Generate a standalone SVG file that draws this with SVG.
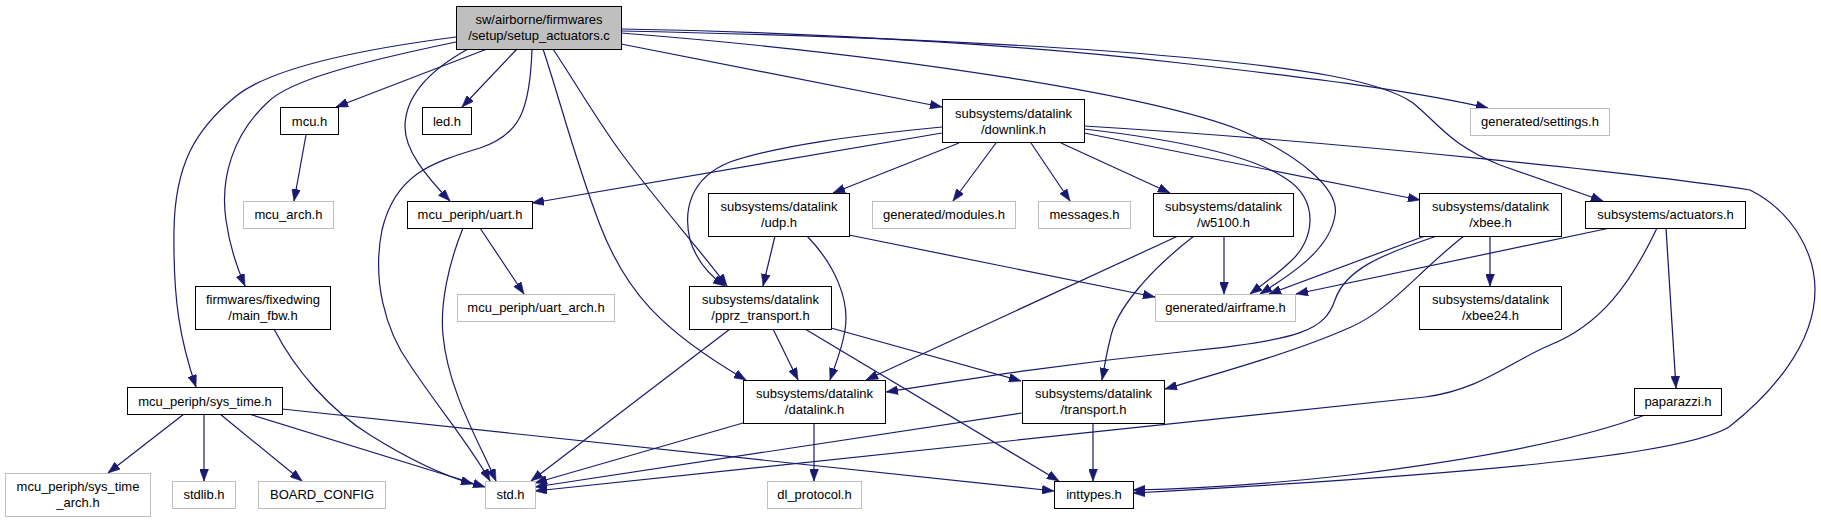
<svg xmlns="http://www.w3.org/2000/svg" width="1821" height="523" viewBox="0 0 1821 523">
<style>
.n rect{fill:#fff;stroke:#000;stroke-width:1}
.g rect{fill:#fff;stroke:#bfbfbf;stroke-width:1}
.r rect{fill:#bfbfbf;stroke:#000;stroke-width:1}
text{font-family:"Liberation Sans",Arial,Helvetica,sans-serif;font-size:13px;fill:#000;text-anchor:middle}
#edges path{fill:none;stroke:#191970;stroke-width:1.2;marker-end:url(#ah)}
</style>
<defs>
<marker id="ah" markerUnits="userSpaceOnUse" markerWidth="12" markerHeight="9" viewBox="0 0 12 9" refX="12" refY="4.5" orient="auto">
<path d="M0,0 L12,4.5 L0,9 z" fill="#191970" stroke="#191970" stroke-width="0.5"/>
</marker>
</defs>
<rect width="1821" height="523" fill="#fff"/>
<g id="edges">
<path d="M487,49 L336,107"/>
<path d="M517,49 L462,107"/>
<path d="M621,44 L942,107"/>
<path d="M621,29 C850,33 1050,48 1180,63 C1300,77 1400,88 1488,108"/>
<path d="M621,31 C850,36 1050,45 1180,57 C1300,68 1380,80 1413,103 C1440,125 1450,145 1500,165 L1603,201"/>
<path d="M621,33 C900,55 1150,95 1240,130 C1300,155 1340,190 1335,215 C1330,250 1290,275 1260,294"/>
<path d="M468,49 C430,70 405,95 405,127 C405,150 425,175 450,201"/>
<path d="M532,49 C530,110 520,135 480,148 C430,163 395,175 382,230 C372,280 385,330 410,365 C440,410 470,445 490,481"/>
<path d="M553,49 C580,90 600,125 625,158 C660,205 700,250 727,286"/>
<path d="M543,49 C560,100 575,160 600,225 C625,290 660,330 746,380"/>
<path d="M456,42 C360,62 290,80 268,102 C232,135 220,180 226,220 C230,250 238,270 245,286"/>
<path d="M456,37 C340,52 265,72 235,97 C195,130 175,165 174,230 C173,300 180,340 196,387"/>
<path d="M942,133 L532,203"/>
<path d="M942,127 C860,135 780,145 730,162 C690,178 683,210 690,240 C697,262 710,276 725,286"/>
<path d="M959,143 L833,193"/>
<path d="M996,143 L953,201"/>
<path d="M1031,143 L1070,201"/>
<path d="M1061,143 L1170,193"/>
<path d="M1084,133 L1420,200"/>
<path d="M1084,129 C1180,140 1250,155 1285,178 C1320,200 1315,240 1290,262 C1275,276 1262,285 1250,294"/>
<path d="M1084,126 C1350,142 1650,175 1750,190 C1790,210 1815,250 1815,290 C1815,345 1770,395 1729,427 C1690,450 1550,470 1133,493"/>
<path d="M775,236 L763,286"/>
<path d="M807,236 C835,265 850,300 845,330 C842,350 835,365 830,380"/>
<path d="M849,235 L1155,297"/>
<path d="M1224,236 L1224,294"/>
<path d="M1178,236 L866,380"/>
<path d="M1194,236 C1150,270 1115,310 1110,340 C1106,355 1104,370 1102,380"/>
<path d="M1425,236 L1269,294"/>
<path d="M1437,236 C1380,255 1345,270 1335,300 C1325,330 1300,340 1190,351 C1050,365 950,382 886,392"/>
<path d="M1464,236 C1420,270 1390,310 1351,327 C1300,350 1230,370 1165,389"/>
<path d="M1490,236 L1490,286"/>
<path d="M1610,228 L1296,294"/>
<path d="M1657,228 C1630,285 1600,325 1550,345 C1510,362 1480,390 1425,397 L535,491"/>
<path d="M1666,228 L1676,388"/>
<path d="M1645,415 C1580,440 1470,460 1350,475 C1260,485 1180,489 1133,490"/>
<path d="M306,135 L294,201"/>
<path d="M480,228 L524,294"/>
<path d="M463,228 C448,265 440,305 443,335 C448,390 478,440 496,481"/>
<path d="M274,329 C295,370 330,410 370,435 C410,460 445,476 473,484"/>
<path d="M184,414 L108,473"/>
<path d="M204,414 L204,481"/>
<path d="M220,414 L302,481"/>
<path d="M249,414 L485,487"/>
<path d="M282,409 L1054,491"/>
<path d="M773,329 L798,380"/>
<path d="M831,328 L1021,381"/>
<path d="M805,329 L1059,481"/>
<path d="M730,329 L531,481"/>
<path d="M743,423 L535,483"/>
<path d="M814,423 L814,481"/>
<path d="M1022,413 L535,487"/>
<path d="M1093,423 L1093,481"/>
</g>
<g id="n_root" class="r"><rect x="456.5" y="6.5" width="165" height="43"/><text x="539" y="24">sw/airborne/firmwares</text><text x="539" y="40">/setup/setup_actuators.c</text></g>
<g id="n_mcu" class="n"><rect x="280.5" y="107.5" width="58" height="27"/><text x="309.5" y="125.5">mcu.h</text></g>
<g id="n_led" class="n"><rect x="422.5" y="107.5" width="49" height="27"/><text x="447" y="125.5">led.h</text></g>
<g id="n_downlink" class="n"><rect x="942.5" y="99.5" width="142" height="43"/><text x="1013.5" y="117.5">subsystems/datalink</text><text x="1013.5" y="133.5">/downlink.h</text></g>
<g id="n_settings" class="g"><rect x="1470.5" y="108.5" width="139" height="27"/><text x="1540" y="126">generated/settings.h</text></g>
<g id="n_mcu_arch" class="g"><rect x="243.5" y="201.5" width="90" height="27"/><text x="288.5" y="219">mcu_arch.h</text></g>
<g id="n_uart" class="n"><rect x="407.5" y="201.5" width="125" height="27"/><text x="470" y="219">mcu_periph/uart.h</text></g>
<g id="n_udp" class="n"><rect x="708.5" y="193.5" width="141" height="43"/><text x="779" y="211">subsystems/datalink</text><text x="779" y="227">/udp.h</text></g>
<g id="n_modules" class="g"><rect x="872.5" y="201.5" width="143" height="27"/><text x="944" y="219">generated/modules.h</text></g>
<g id="n_messages" class="g"><rect x="1038.5" y="201.5" width="92" height="27"/><text x="1084.5" y="219">messages.h</text></g>
<g id="n_w5100" class="n"><rect x="1153.5" y="193.5" width="140" height="43"/><text x="1223.5" y="211">subsystems/datalink</text><text x="1223.5" y="227">/w5100.h</text></g>
<g id="n_xbee" class="n"><rect x="1419.5" y="193.5" width="142" height="43"/><text x="1490.5" y="211">subsystems/datalink</text><text x="1490.5" y="227">/xbee.h</text></g>
<g id="n_actuators" class="n"><rect x="1585.5" y="201.5" width="160" height="27"/><text x="1665.5" y="219">subsystems/actuators.h</text></g>
<g id="n_main_fbw" class="n"><rect x="195.5" y="286.5" width="135" height="43"/><text x="263" y="304">firmwares/fixedwing</text><text x="263" y="320">/main_fbw.h</text></g>
<g id="n_uart_arch" class="g"><rect x="457.5" y="294.5" width="157" height="27"/><text x="536" y="312">mcu_periph/uart_arch.h</text></g>
<g id="n_pprz" class="n"><rect x="689.5" y="286.5" width="142" height="43"/><text x="760.5" y="304">subsystems/datalink</text><text x="760.5" y="320">/pprz_transport.h</text></g>
<g id="n_airframe" class="g"><rect x="1155.5" y="294.5" width="140" height="27"/><text x="1225.5" y="312">generated/airframe.h</text></g>
<g id="n_xbee24" class="n"><rect x="1419.5" y="286.5" width="142" height="43"/><text x="1490.5" y="304">subsystems/datalink</text><text x="1490.5" y="320">/xbee24.h</text></g>
<g id="n_sys_time" class="n"><rect x="127.5" y="387.5" width="155" height="27"/><text x="205" y="405.5">mcu_periph/sys_time.h</text></g>
<g id="n_datalink" class="n"><rect x="743.5" y="380.5" width="142" height="43"/><text x="814.5" y="398">subsystems/datalink</text><text x="814.5" y="414">/datalink.h</text></g>
<g id="n_transport" class="n"><rect x="1022.5" y="380.5" width="142" height="43"/><text x="1093.5" y="398">subsystems/datalink</text><text x="1093.5" y="414">/transport.h</text></g>
<g id="n_paparazzi" class="n"><rect x="1634.5" y="388.5" width="87" height="27"/><text x="1678" y="406">paparazzi.h</text></g>
<g id="n_sys_time_arch" class="g"><rect x="5.5" y="473.5" width="145" height="43"/><text x="78" y="491">mcu_periph/sys_time</text><text x="78" y="507">_arch.h</text></g>
<g id="n_stdlib" class="g"><rect x="172.5" y="481.5" width="63" height="27"/><text x="204" y="499">stdlib.h</text></g>
<g id="n_board" class="g"><rect x="258.5" y="481.5" width="127" height="27"/><text x="322" y="499">BOARD_CONFIG</text></g>
<g id="n_std" class="g"><rect x="485.5" y="481.5" width="50" height="27"/><text x="510.5" y="499">std.h</text></g>
<g id="n_dl_protocol" class="g"><rect x="767.5" y="481.5" width="94" height="27"/><text x="814.5" y="499">dl_protocol.h</text></g>
<g id="n_inttypes" class="n"><rect x="1054.5" y="481.5" width="79" height="27"/><text x="1094" y="499">inttypes.h</text></g>
</svg>
